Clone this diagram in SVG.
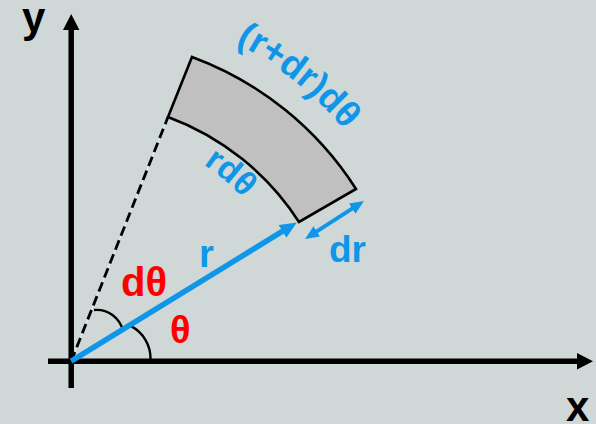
<svg xmlns="http://www.w3.org/2000/svg" width="596" height="424" viewBox="0 0 596 424">
  <style>
    .axis { stroke: #000; stroke-width: 5.5; fill: none; }
    .head { fill: #000; }
    .blue { fill: #0f96e8; }
    .bline { stroke: #0f96e8; fill: none; }
    .red { fill: #ff0000; }
    .lbl { font-family: "Liberation Sans", Arial, sans-serif; font-weight: bold; }
    .arc { stroke: #000; stroke-width: 2.4; fill: none; }
  </style>
  <defs>
    <marker id="rHead" viewBox="0 0 17 15" refX="6" refY="7.5" markerWidth="17" markerHeight="15" markerUnits="userSpaceOnUse" orient="auto">
      <path d="M0,0 L17,7.5 L0,15 z" class="blue"/>
    </marker>
    <marker id="drHead" viewBox="0 0 14 12" refX="5" refY="6" markerWidth="14" markerHeight="12" markerUnits="userSpaceOnUse" orient="auto-start-reverse">
      <path d="M0,0 L14,6 L0,12 z" class="blue"/>
    </marker>
    <path id="outerPath" d="M216.61,33.95 A358,358 0 0 1 395.46,209.70"/>
    <path id="innerPath" d="M196.59,160.01 A237,237 0 0 1 276.25,242.5"/>
  </defs>

  <rect x="0" y="0" width="596" height="424" fill="#cfd8d6"/>

  <g id="axes">
    <g id="x-axis">
      <line class="axis" x1="48" y1="361.2" x2="579" y2="361.2"/>
      <polygon class="head" points="593,361.2 577,353 577,369.4"/>
    </g>
    <g id="y-axis">
      <line class="axis" x1="71.2" y1="388" x2="71.2" y2="28"/>
      <polygon class="head" points="71.2,14 63,30 79.4,30"/>
    </g>
  </g>

  <g id="sector">
    <path d="M168,117 A265,265 0 0 1 299,222 L356,189 A330,330 0 0 0 192,57 Z" fill="#c0c0c0" stroke="#000" stroke-width="2.6" stroke-linejoin="miter"/>
  </g>

  <g id="connectors">
    <line x1="71.2" y1="361.2" x2="168" y2="117" stroke="#d6ecf8" stroke-width="1.2"/>
    <line x1="71.2" y1="361.2" x2="168" y2="117" stroke="#000" stroke-width="2.8" stroke-dasharray="10 5"/>
    <path class="arc" d="M94,310 A27,27 0 0 1 123,331"/>
    <path class="arc" d="M131.5,326.4 A36.2,36.2 0 0 1 150.5,359"/>
    <line class="bline" x1="71.2" y1="361.2" x2="287.5" y2="228.2" stroke-width="5.5" marker-end="url(#rHead)"/>
    <line class="bline" x1="312.6" y1="234.1" x2="356.4" y2="205.9" stroke-width="4" marker-start="url(#drHead)" marker-end="url(#drHead)"/>
  </g>

  <g id="labels">
    <text class="lbl" x="22" y="31.5" font-size="42" fill="#000">y</text>
    <text class="lbl" x="566" y="421" font-size="42" fill="#000">x</text>
    <text class="lbl red" x="121" y="296" font-size="40">dθ</text>
    <text class="lbl red" x="170" y="343" font-size="38">θ</text>
    <text class="lbl blue" x="199" y="267" font-size="38">r</text>
    <text class="lbl blue" x="329" y="262" font-size="37">dr</text>
    <text class="lbl blue" font-size="37"><textPath href="#outerPath" startOffset="21">(r+dr)dθ</textPath></text>
    <text class="lbl blue" font-size="34"><textPath href="#innerPath" startOffset="8">rdθ</textPath></text>
  </g>
</svg>
